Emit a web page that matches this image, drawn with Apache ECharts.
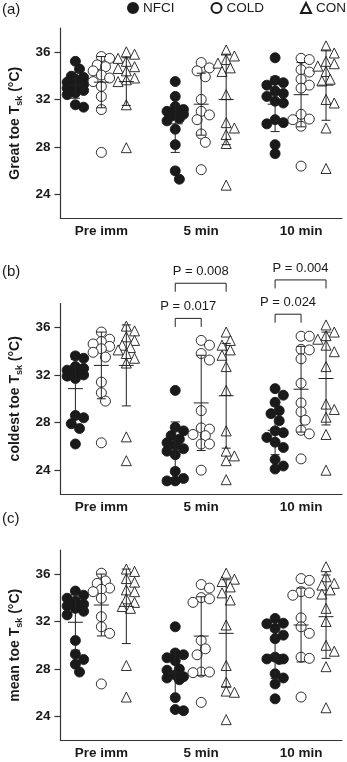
<!DOCTYPE html>
<html>
<head>
<meta charset="utf-8">
<script src="https://cdn.jsdelivr.net/npm/echarts@6/dist/echarts.min.js"></script>
<style>
  html, body { margin: 0; padding: 0; background: #fff; }
  #main { width: 347px; height: 762px; }
</style>
</head>
<body>
<div id="main"></div>
<script>
const timeLabels = ['Pre imm', '5 min', '10 min'];
const groupNames = ['NFCI', 'COLD', 'CON'];
const yTicks = [24, 28, 32, 36];

// (a) great toe Tsk, one inner array per time point
const greatNFCI = [
  [35.2, 34.55, 33.95, 33.85, 33.7, 33.45, 33.25, 33.1, 32.95, 32.75, 32.55, 32.4, 31.55, 31.35],
  [33.5, 32.25, 31.4, 31.15, 31.0, 30.9, 30.75, 30.6, 30.4, 30.2, 29.5, 28.2, 26.0, 25.3],
  [35.5, 33.6, 33.4, 33.2, 32.7, 32.5, 32.25, 31.85, 31.7, 30.3, 30.05, 29.95, 28.2, 27.45]
];
const greatCOLD = [
  [35.6, 35.45, 34.9, 34.75, 34.4, 34.05, 33.8, 33.5, 33.1, 32.25, 31.15, 27.55],
  [35.1, 34.65, 34.4, 33.9, 32.0, 31.0, 30.7, 30.3, 29.1, 28.4, 26.1],
  [35.45, 35.35, 34.5, 34.3, 33.7, 33.2, 32.95, 30.75, 30.35, 30.3, 29.75, 26.4]
];
const greatCON = [
  [36.0, 35.8, 35.45, 35.2, 34.75, 34.6, 34.4, 33.8, 33.65, 33.5, 31.55, 27.95],
  [36.15, 35.65, 35.35, 35.05, 34.65, 34.35, 32.4, 30.05, 29.6, 29.05, 28.3, 24.8],
  [36.5, 35.9, 35.2, 35.0, 34.8, 34.35, 33.7, 33.55, 32.0, 31.7, 29.6, 26.2]
];
// rows: NFCI, COLD, CON; columns: time points
const greatMean = [[33.2, 29.95, 31.6], [33.45, 31.6, 32.4], [33.5, 32.0, 33.2]];
const greatSD = [[1.1, 2.4, 2.3], [2.15, 2.6, 2.7], [2.0, 3.8, 2.95]];

// (b) coldest toe Tsk
const coldNFCI = [
  [33.6, 33.4, 32.7, 32.55, 32.4, 32.2, 32.0, 31.9, 31.7, 28.6, 28.4, 27.9, 27.5, 26.2],
  [30.7, 27.6, 27.3, 26.9, 26.6, 26.3, 26.1, 25.8, 25.6, 25.3, 23.9, 23.3, 23.1, 23.1],
  [30.85, 30.3, 29.7, 29.0, 28.75, 28.15, 27.3, 27.15, 26.75, 26.35, 25.9, 24.9, 24.35, 24.1]
];
const coldCOLD = [
  [35.6, 35.0, 34.8, 34.6, 34.4, 34.2, 33.9, 33.5, 31.4, 30.5, 29.8, 26.3],
  [34.9, 34.5, 33.8, 33.25, 29.0, 27.55, 27.45, 27.0, 26.9, 26.2, 26.2, 24.0],
  [35.25, 35.25, 34.15, 34.1, 33.35, 31.3, 29.65, 28.9, 28.2, 27.35, 27.05, 24.95]
];
const coldCON = [
  [36.1, 35.7, 35.2, 34.9, 34.5, 34.3, 34.1, 33.8, 33.4, 33.0, 26.8, 24.8],
  [35.6, 34.9, 34.5, 34.1, 33.65, 32.7, 30.7, 27.3, 25.6, 25.2, 24.8, 23.2],
  [36.2, 35.6, 35.3, 35.0, 34.5, 33.95, 32.7, 29.55, 29.1, 28.45, 27.0, 24.0]
];
const coldMean = [[30.85, 26.1, 27.35], [32.8, 29.65, 30.8], [32.8, 30.25, 31.7]];
const coldSD = [[2.45, 1.95, 2.05], [2.8, 4.0, 3.6], [3.4, 4.4, 3.9]];

// (c) mean toe Tsk
const meanNFCI = [
  [34.55, 34.2, 33.95, 33.7, 33.45, 33.3, 33.1, 32.85, 32.55, 30.4, 29.25, 28.8, 28.4, 27.75],
  [31.55, 29.35, 29.2, 28.95, 28.7, 28.0, 27.9, 27.5, 27.35, 27.25, 27.1, 25.6, 24.6, 24.5],
  [32.25, 31.85, 31.8, 31.4, 30.85, 30.55, 29.0, 28.85, 28.85, 28.8, 27.6, 27.25, 26.75, 25.5]
];
const meanCOLD = [
  [36.05, 35.4, 35.2, 34.8, 34.7, 34.5, 33.95, 32.4, 31.55, 31.0, 26.75],
  [35.1, 34.8, 34.0, 33.9, 33.6, 30.4, 29.7, 29.2, 27.75, 27.75, 27.7, 25.2],
  [35.6, 35.45, 34.5, 34.4, 34.2, 32.3, 31.55, 31.0, 29.0, 28.9, 25.65]
];
const meanCON = [
  [36.4, 36.2, 35.6, 35.3, 34.65, 34.5, 33.9, 33.6, 33.25, 33.1, 28.3, 25.65],
  [36.05, 35.55, 35.35, 34.9, 34.4, 33.8, 31.7, 28.3, 26.9, 26.15, 26.05, 23.75],
  [36.6, 35.75, 35.2, 35.05, 34.65, 34.3, 33.1, 32.0, 30.0, 29.5, 28.2, 24.75]
];
const meanMean = [[31.93, 27.67, 29.2], [33.38, 30.77, 31.7], [33.27, 31.0, 32.4]];
const meanSD = [[2.35, 1.9, 2.0], [2.6, 3.3, 3.1], [3.13, 4.5, 3.5]];

// significance brackets in (b): time index, from group, to group, bracket height, label
const bracketTime = [1, 1, 2, 2];
const bracketFrom = [0, 0, 0, 0];
const bracketTo = [2, 1, 2, 1];
const bracketY = [39.7, 36.75, 39.98, 37.1];
const bracketText = ['P = 0.008', 'P = 0.017', 'P = 0.004', 'P = 0.024'];

const panels = [
  { tag: '(a)', title: 'Great toe', pts: [greatNFCI, greatCOLD, greatCON], mean: greatMean, sd: greatSD },
  { tag: '(b)', title: 'coldest toe', pts: [coldNFCI, coldCOLD, coldCON], mean: coldMean, sd: coldSD },
  { tag: '(c)', title: 'mean toe', pts: [meanNFCI, meanCOLD, meanCON], mean: meanMean, sd: meanSD }
];

const FONT = '"Liberation Sans", Arial, Helvetica, sans-serif';
const INK = '#1a1a1a';
const gridTops = [28, 303.5, 550];
const gridH = 190.5;
const memberOffset = [-0.26, 0, 0.25];
const symbols = ['circle', 'circle', 'triangle'];
const sizes = [10, 10, 10];
const fills = [INK, '#fff', '#fff'];

// simple beeswarm so that points of similar value sit side by side
function swarm(values, center) {
  const pxX = 101.8, pxY = 11.85, step = 4.2, minD = 8.5;
  const idx = values.map((v, i) => i).sort((a, b) => values[b] - values[a]);
  const placed = [];
  const out = [];
  idx.forEach(i => {
    const v = values[i];
    let bestK = 0, bestD = -1;
    for (const k of [0, 1, -1, 2, -2]) {
      let d = Infinity;
      placed.forEach(p => {
        d = Math.min(d, Math.hypot((k - p.k) * step, (v - p.v) * pxY));
      });
      if (d >= minD) { bestK = k; bestD = Infinity; break; }
      if (d > bestD) { bestD = d; bestK = k; }
    }
    placed.push({ k: bestK, v: v });
    out.push([center + bestK * step / pxX, v]);
  });
  return out;
}

function renderBar(params, api) {
  const x = api.value(0), m = api.value(1), s = api.value(2);
  const c = api.coord([x, m]);
  const t = api.coord([x, m + s]);
  const b = api.coord([x, m - s]);
  const st = { stroke: '#222', lineWidth: 1 };
  return {
    type: 'group',
    children: [
      { type: 'line', shape: { x1: c[0], y1: t[1], x2: c[0], y2: b[1] }, style: st },
      { type: 'line', shape: { x1: c[0] - 4.5, y1: t[1], x2: c[0] + 4.5, y2: t[1] }, style: st },
      { type: 'line', shape: { x1: c[0] - 4.5, y1: b[1], x2: c[0] + 4.5, y2: b[1] }, style: st },
      { type: 'line', shape: { x1: c[0] - 7.5, y1: c[1], x2: c[0] + 7.5, y2: c[1] }, style: st }
    ]
  };
}

function renderBracket(params, api) {
  const i = api.value(3);
  const a = api.coord([api.value(0), api.value(2)]);
  const b = api.coord([api.value(1), api.value(2)]);
  const leg = 8.5;
  return {
    type: 'group',
    children: [
      {
        type: 'polyline',
        shape: { points: [[a[0], a[1] + leg], [a[0], a[1]], [b[0], b[1]], [b[0], b[1] + leg]] },
        style: { stroke: '#222', lineWidth: 1, fill: null }
      },
      {
        type: 'text',
        x: (a[0] + b[0]) / 2, y: a[1] - 12,
        style: { text: bracketText[i], font: '13px ' + FONT, fill: INK, align: 'center', verticalAlign: 'middle' }
      }
    ]
  };
}

const grids = [], xAxes = [], yAxes = [], series = [], graphics = [];

panels.forEach((p, pi) => {
  grids.push({ left: 55, right: 5, top: gridTops[pi], height: gridH });
  xAxes.push({
    type: 'value', gridIndex: pi, min: -0.41, max: 2.41,
    splitLine: { show: false },
    axisTick: { show: false },
    axisLine: { show: true, onZero: false, lineStyle: { color: '#333', width: 1.2 } },
    axisLabel: {
      customValues: [0, 1, 2], margin: 6,
      formatter: v => timeLabels[Math.round(v)],
      color: INK, fontSize: 13.5, fontWeight: 'bold', fontFamily: FONT
    }
  });
  yAxes.push({
    type: 'value', gridIndex: pi, min: 22, max: 38,
    name: p.title + ' T{sub|sk} (°C)',
    nameLocation: 'middle', nameRotate: 90, nameGap: 31,
    nameTextStyle: {
      color: INK, fontSize: 14, fontWeight: 'bold', fontFamily: FONT,
      rich: { sub: { fontSize: 9, fontWeight: 'bold', fontFamily: FONT, color: INK, padding: [10, 0, 0, 0] } }
    },
    splitLine: { show: false },
    axisLine: { show: true, onZero: false, lineStyle: { color: '#333', width: 1.2 } },
    axisTick: { show: true, length: 6, customValues: yTicks, lineStyle: { color: '#333', width: 1.2 } },
    axisLabel: {
      customValues: yTicks, margin: 10,
      color: INK, fontSize: 13.5, fontWeight: 'bold', fontFamily: FONT
    }
  });

  groupNames.forEach((g, gi) => {
    let pts = [];
    p.pts[gi].forEach((vals, ti) => {
      pts = pts.concat(swarm(vals, ti + memberOffset[gi]));
    });
    series.push({
      type: 'scatter', name: g, xAxisIndex: pi, yAxisIndex: pi,
      symbol: symbols[gi], symbolSize: sizes[gi],
      itemStyle: { color: fills[gi], borderColor: INK, borderWidth: 0.9, opacity: 1 },
      data: pts, z: 2, silent: true
    });
  });

  const bars = [];
  groupNames.forEach((g, gi) => {
    timeLabels.forEach((t, ti) => {
      bars.push([ti + memberOffset[gi], p.mean[gi][ti], p.sd[gi][ti]]);
    });
  });
  series.push({
    type: 'custom', xAxisIndex: pi, yAxisIndex: pi, renderItem: renderBar,
    encode: { x: 0, y: 1 }, data: bars, z: 3, silent: true
  });

  graphics.push({
    type: 'text', left: 2, top: gridTops[pi] - (pi === 0 ? 26 : 39),
    style: { text: p.tag, font: '15px ' + FONT, fill: INK }
  });
});

series.push({
  type: 'custom', xAxisIndex: 1, yAxisIndex: 1, renderItem: renderBracket, clip: false,
  encode: { x: [0, 1], y: 2 }, silent: true, z: 4,
  data: bracketTime.map((t, i) => [
    t + memberOffset[bracketFrom[i]], t + memberOffset[bracketTo[i]], bracketY[i], i
  ])
});

const chart = echarts.init(document.getElementById('main'));
chart.setOption({
  animation: false,
  backgroundColor: '#fff',
  textStyle: { fontFamily: FONT },
  legend: {
    data: groupNames, top: 1, left: 127, width: 230, padding: 0,
    itemWidth: 10, itemHeight: 10, itemGap: 36,
    selectedMode: false,
    textStyle: { color: INK, fontSize: 13.5, fontFamily: FONT }
  },
  grid: grids,
  xAxis: xAxes,
  yAxis: yAxes,
  graphic: graphics,
  series: series
});
</script>
</body>
</html>
